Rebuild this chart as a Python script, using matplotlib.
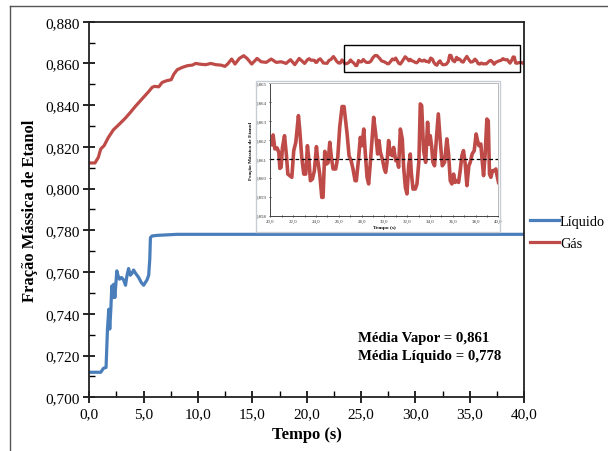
import matplotlib
matplotlib.use("Agg")
import matplotlib.pyplot as plt
from matplotlib.patches import Rectangle
from matplotlib.lines import Line2D
from matplotlib.ticker import MultipleLocator, FuncFormatter

plt.rcParams['font.family'] = ['Liberation Serif', 'DejaVu Serif']

# ---------------- data ----------------
gas_t_start = [0, 0.52, 0.83, 1.05, 1.36, 1.76, 2.22, 2.78, 3.30, 3.77, 4.23, 4.69, 5.06, 5.46,
               5.77, 5.99, 6.39, 6.70, 7.10, 7.53, 7.78, 8.09, 8.55, 9.01, 9.48, 9.78, 10.25,
               10.71, 11.17, 11.64, 12.10, 12.47, 12.72, 13.09, 13.40, 13.80, 14.20, 14.51,
               14.94, 15.43, 15.80, 16.27, 16.73, 17.19, 17.65, 18.1, 18.5, 18.9, 19.3, 19.8]
gas_y_start = [0.8123, 0.8123, 0.8150, 0.8190, 0.8206, 0.8246, 0.8282, 0.8310, 0.8337, 0.8365,
               0.8394, 0.8421, 0.8442, 0.8465, 0.8485, 0.8490, 0.8488, 0.8509, 0.8517, 0.8522,
               0.8549, 0.8570, 0.8581, 0.8589, 0.8592, 0.8600, 0.8596, 0.8594, 0.8600, 0.8594,
               0.8592, 0.8586, 0.8597, 0.8621, 0.8597, 0.8624, 0.8637, 0.8624, 0.8597, 0.8624,
               0.8608, 0.8605, 0.8621, 0.8605, 0.8608, 0.8600, 0.8618, 0.8594, 0.8624, 0.8600]

gas_t_zoom = [20.06, 20.23, 20.38, 20.58, 20.73, 20.82, 20.93, 21.05, 21.23, 21.40, 21.52, 21.69,
              21.87, 22.04, 22.22, 22.45, 22.57, 22.74, 22.92, 23.09, 23.24, 23.39, 23.50, 23.68,
              23.85, 24.03, 24.15, 24.32, 24.50, 24.61, 24.76, 24.91, 25.05, 25.20, 25.34, 25.49,
              25.72, 25.90, 26.07, 26.28, 26.45, 26.57, 26.72, 26.89, 27.07, 27.24, 27.42, 27.53,
              27.71, 27.88, 28.03, 28.18, 28.32, 28.47, 28.61, 28.76, 28.93, 29.05, 29.23, 29.40,
              29.52, 29.64, 29.81, 29.99, 30.10, 30.22, 30.36, 30.51, 30.69, 30.80, 30.98, 31.09,
              31.24, 31.39, 31.56, 31.68, 31.83, 31.97, 32.12, 32.26, 32.35, 32.50, 32.70, 32.85,
              33.02, 33.14, 33.26, 33.43, 33.61, 33.78, 33.90, 34.01, 34.13, 34.25, 34.39, 34.54,
              34.72, 34.89, 35.07, 35.27, 35.47, 35.62, 35.77, 35.91, 36.06, 36.20, 36.35, 36.50,
              36.64, 36.79, 36.93, 37.08, 37.23, 37.40, 37.52, 37.69, 37.87, 38.04, 38.16, 38.28,
              38.45, 38.57, 38.69, 38.83, 38.98, 39.10, 39.21, 39.33, 39.47, 39.62, 39.77, 39.85,
              40.00]
gas_y_zoom = [0.86176, 0.86227, 0.86153, 0.86158, 0.86135, 0.86050, 0.86056, 0.86161, 0.86223,
              0.86117, 0.86020, 0.86012, 0.86003, 0.86144, 0.86188, 0.86329, 0.86250, 0.86109,
              0.86020, 0.86020, 0.86170, 0.86082, 0.85985, 0.85994, 0.86038, 0.86165, 0.86091,
              0.86020, 0.85897, 0.85897, 0.86140, 0.86073, 0.86080, 0.86188, 0.86109, 0.86047,
              0.86047, 0.86109, 0.86267, 0.86377, 0.86377, 0.86311, 0.86232, 0.86117, 0.86091,
              0.86047, 0.85985, 0.85985, 0.86091, 0.86214, 0.86170, 0.86258, 0.86126, 0.86003,
              0.85968, 0.86082, 0.86223, 0.86320, 0.86232, 0.86126, 0.86197, 0.86135, 0.86100,
              0.86047, 0.86029, 0.86082, 0.86197, 0.86126, 0.86117, 0.86161, 0.86091, 0.86100,
              0.86056, 0.86258, 0.86206, 0.86056, 0.85950, 0.85915, 0.86064, 0.86126, 0.86029,
              0.85941, 0.85941, 0.85968, 0.86091, 0.86391, 0.86382, 0.86144, 0.86082, 0.86294,
              0.86179, 0.86223, 0.86170, 0.86082, 0.86064, 0.86197, 0.86338, 0.86197, 0.86064,
              0.86082, 0.86206, 0.86126, 0.85985, 0.85968, 0.86020, 0.85976, 0.85985, 0.85976,
              0.86038, 0.86117, 0.86144, 0.86073, 0.85959, 0.86064, 0.86082, 0.86126, 0.86144,
              0.86232, 0.86197, 0.86170, 0.86179, 0.86091, 0.86012, 0.86126, 0.86311, 0.86302,
              0.86020, 0.86003, 0.86038, 0.86038, 0.86047, 0.86020, 0.85976]

liq_t = [0, 1.05, 1.30, 1.54, 1.67, 1.79, 1.88, 1.98, 2.07, 2.16, 2.25, 2.35, 2.44, 2.53, 2.65,
         2.78, 2.96, 3.15, 3.33, 3.46, 3.61, 3.77, 3.92, 4.07, 4.26, 4.54, 4.78, 5.00, 5.15,
         5.31, 5.46, 5.56, 5.62, 5.77, 6.23, 8.09, 12.0, 20.0, 30.0, 40.0]
liq_y = [0.7120, 0.7120, 0.7139, 0.7143, 0.7327, 0.7422, 0.7327, 0.7422, 0.7534, 0.7478, 0.7542,
         0.7478, 0.7542, 0.7606, 0.7582, 0.7566, 0.7574, 0.7563, 0.7537, 0.7582, 0.7617, 0.7585,
         0.7594, 0.7610, 0.7594, 0.7574, 0.7550, 0.7537, 0.7550, 0.7563, 0.7585, 0.7661, 0.7765,
         0.7773, 0.7776, 0.7781, 0.7781, 0.7781, 0.7781, 0.7781]

mean_vapor = 0.861
mean_liquid = 0.778
series_labels = ["Líquido", "Gás"]
annot_lines = ["Média Vapor = 0,861", "Média Líquido = 0,778"]
zoom_box_x = [23.4, 39.6]
zoom_box_y = [0.856, 0.869]

BLUE = "#4a7ebb"
RED = "#be4b48"

def comma_fmt(dec):
    return FuncFormatter(lambda v, p: f"{v:.{dec}f}".replace(".", ","))

# ---------------- figure ----------------
fig = plt.figure(figsize=(6.08, 4.52), dpi=100)

# outer frame (left and top edges only visible)
fx, fy = 10 / 608, 1 - 7 / 452
fig.add_artist(Line2D([fx, fx], [0, fy], transform=fig.transFigure, color="#555555", lw=1.0))
fig.add_artist(Line2D([fx, 1], [fy, fy], transform=fig.transFigure, color="#555555", lw=1.0))

ax = fig.add_axes([0.1469, 0.1188, 0.7153, 0.8310])
gas_t = gas_t_start + gas_t_zoom
gas_y = gas_y_start + gas_y_zoom
ax.plot(liq_t, liq_y, color=BLUE, lw=2.3, label=series_labels[0], solid_joinstyle="round")
ax.plot(gas_t, gas_y, color=RED, lw=2.3, label=series_labels[1], solid_joinstyle="round")
ax.set_xlim(0, 40)
ax.set_ylim(0.700, 0.880)
ax.xaxis.set_major_locator(MultipleLocator(5))
ax.xaxis.set_minor_locator(MultipleLocator(2.5))
ax.yaxis.set_major_locator(MultipleLocator(0.02))
ax.yaxis.set_minor_locator(MultipleLocator(0.01))
ax.xaxis.set_major_formatter(comma_fmt(1))
ax.yaxis.set_major_formatter(comma_fmt(3))
ax.tick_params(which="major", direction="inout", length=8, width=1.2, labelsize=11, pad=3,
               top=False, right=False)
ax.tick_params(which="minor", direction="in", length=4, width=1.0, top=False, right=False)
for s in ax.spines.values():
    s.set_linewidth(1.3)
    s.set_color("#222222")
ax.set_xlabel("Tempo (s)", fontsize=12, fontweight="bold", labelpad=4)
ax.set_ylabel("Fração Mássica de Etanol", fontsize=12, fontweight="bold", labelpad=5)

ax.add_patch(Rectangle((zoom_box_x[0], zoom_box_y[0]), zoom_box_x[1] - zoom_box_x[0],
                       zoom_box_y[1] - zoom_box_y[0], fill=False, edgecolor="black", lw=1.0, zorder=5))

ax.text(24.7, 0.7285, annot_lines[0], fontsize=10.6, fontweight="bold", va="center", ha="left")
ax.text(24.7, 0.7200, annot_lines[1], fontsize=10.6, fontweight="bold", va="center", ha="left")

leg = fig.legend(handles=ax.get_lines(), labels=series_labels, loc="upper left",
                 bbox_to_anchor=(530 / 608, 1 - 216 / 452), frameon=False, fontsize=10.3,
                 handlelength=2.0, handletextpad=0.1, borderaxespad=0.0, borderpad=0.0,
                 labelspacing=0.65)

# inset frame
fig.patches.append(Rectangle((256 / 608, 1 - 233 / 452), 244 / 608, 151 / 452, transform=fig.transFigure,
                             fill=False, edgecolor="#c8ccd4", lw=1.0, zorder=1))

ins = fig.add_axes([0.4449, 0.5206, 0.3750, 0.2929])
ins.plot(gas_t_zoom, gas_y_zoom, color=RED, lw=2.6, solid_joinstyle="round")
ins.axhline(mean_vapor, color="black", lw=0.9, ls=(0, (3, 2)))
ins.set_xlim(20, 40)
ins.set_ylim(0.858, 0.865)
ins.xaxis.set_major_locator(MultipleLocator(2))
ins.xaxis.set_minor_locator(MultipleLocator(1))
ins.yaxis.set_major_locator(MultipleLocator(0.001))
ins.xaxis.set_major_formatter(comma_fmt(1))
ins.yaxis.set_major_formatter(comma_fmt(3))
ins.tick_params(which="both", labelsize=3.5, length=2, width=0.6, pad=1.5, colors="#333333",
                direction="inout")
ins.tick_params(which="minor", length=1.2)
for k in ("top", "right"):
    ins.spines[k].set_color("#bbbbbb")
    ins.spines[k].set_linewidth(0.7)
for k in ("left", "bottom"):
    ins.spines[k].set_color("#444444")
    ins.spines[k].set_linewidth(0.7)
ins.set_xlabel("Tempo (s)", fontsize=3.8, fontweight="bold", labelpad=1.5)
ins.set_ylabel("Fração Mássica de Etanol", fontsize=3.8, fontweight="bold", labelpad=2)

fig.savefig("out.png", dpi=100)
